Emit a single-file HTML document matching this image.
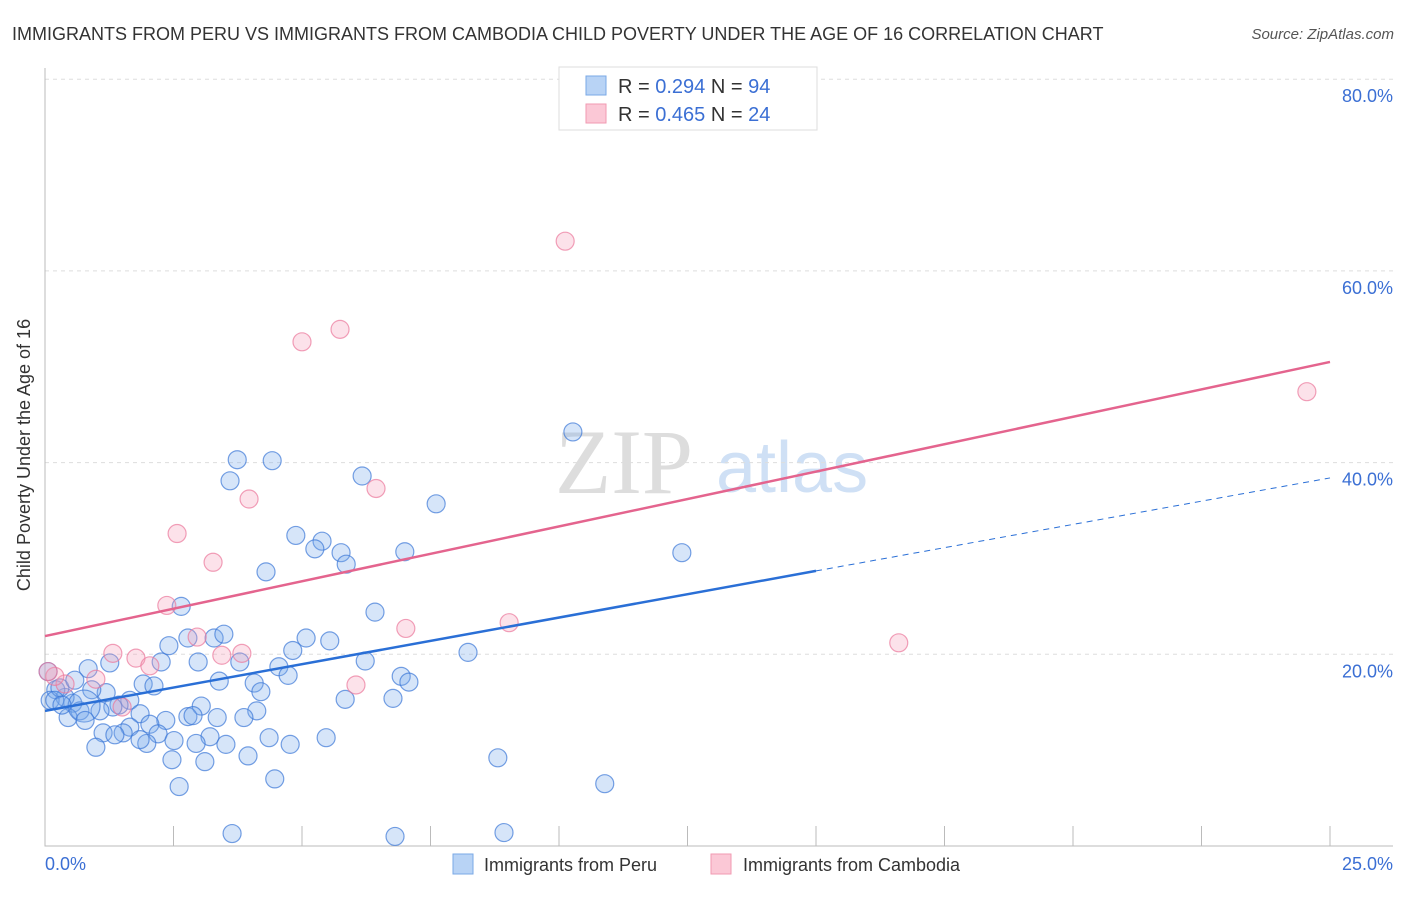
<!DOCTYPE html>
<html><head><meta charset="utf-8"><style>
body{margin:0;background:#fff;font-family:"Liberation Sans",sans-serif}
</style></head><body>
<svg id="c" width="1406" height="892" xmlns="http://www.w3.org/2000/svg">
<text x="12" y="40" font-size="18" fill="#333">IMMIGRANTS FROM PERU VS IMMIGRANTS FROM CAMBODIA CHILD POVERTY UNDER THE AGE OF 16 CORRELATION CHART</text>
<text x="1394" y="39" font-size="15" fill="#555" font-style="italic" text-anchor="end">Source: ZipAtlas.com</text>
<text x="555" y="493" font-size="92" fill="#ddd" font-family="Liberation Serif,serif">ZIP</text>
<text x="716" y="492" font-size="72" fill="#cfe0f5">atlas</text>
<g id="grid"></g><g id="axes"></g><g id="pts"></g><g id="lines"></g>
<text x="30" y="455" font-size="18" fill="#333" transform="rotate(-90 30 455)" text-anchor="middle">Child Poverty Under the Age of 16</text>
<text x="45" y="870" font-size="18" fill="#3b6fd4">0.0%</text>
<text x="1393" y="870" font-size="18" fill="#3b6fd4" text-anchor="end">25.0%</text>
<g>
<rect x="559" y="67" width="258" height="63" fill="#fff" stroke="#ddd"/>
<rect x="586" y="76" width="20" height="19" fill="#b8d3f5" stroke="#7aa8e6"/>
<rect x="586" y="104" width="20" height="19" fill="#fbc8d6" stroke="#f09ab2"/>
<text x="618" y="93" font-size="20" fill="#333">R = <tspan fill="#3b6fd4">0.294</tspan>   N = <tspan fill="#3b6fd4">94</tspan></text>
<text x="618" y="121" font-size="20" fill="#333">R = <tspan fill="#3b6fd4">0.465</tspan>   N = <tspan fill="#3b6fd4">24</tspan></text>
</g>
<g><rect x="453" y="854" width="20" height="20" fill="#b8d3f5" stroke="#7aa8e6"/><text x="484" y="871" font-size="18" fill="#333">Immigrants from Peru</text></g>
<g><rect x="711" y="854" width="20" height="20" fill="#fbc8d6" stroke="#f09ab2"/><text x="743" y="871" font-size="18" fill="#333">Immigrants from Cambodia</text></g>
</svg>
<script>
const peruX=[3.74,4.42,3.60,6.17,7.61,10.27,12.39,4.88,5.39,5.25,5.76,5.86,7.00,4.30,2.65,6.42,8.23,2.78,3.29,3.48,2.41,5.08,5.54,4.82,6.23,3.79,2.98,2.26,1.26,0.84,4.55,4.73,6.93,7.08,3.39,4.07,1.91,2.12,4.20,5.84,6.77,1.19,1.65,0.91,3.04,4.12,1.44,1.32,0.54,0.39,0.21,0.10,0.68,1.07,1.85,2.35,2.78,2.88,3.35,3.87,2.04,1.65,1.52,1.13,3.21,2.20,2.51,2.94,3.52,4.36,4.77,5.47,1.98,0.99,3.95,2.47,3.11,8.81,4.47,2.61,10.89,3.64,6.81,8.93,0.45,0.06,0.29,0.76,0.58,0.19,0.33,0.78,1.36,1.85];
const peruY=[40.3,40.2,38.1,38.6,35.7,43.2,30.6,32.4,31.8,31.0,30.6,29.4,30.7,28.6,25.0,24.4,20.2,21.7,21.7,22.1,20.9,21.7,21.4,20.4,19.3,19.2,19.2,19.2,19.1,18.5,18.7,17.8,17.7,17.1,17.2,17.0,16.9,16.7,16.1,15.3,15.4,16.0,15.2,16.3,14.6,14.1,14.7,14.5,14.9,15.5,16.3,15.2,14.1,14.1,13.8,13.1,13.5,13.6,13.4,13.4,12.7,12.4,11.8,11.8,11.4,11.7,11.0,10.7,10.6,11.3,10.6,11.3,10.7,10.3,9.4,9.0,8.8,9.2,7.0,6.2,6.5,1.3,1.0,1.4,13.4,18.2,16.5,14.6,17.3,15.2,14.7,13.1,11.6,11.1];
const camX=[10.12,5.74,5.00,24.55,6.44,3.97,2.57,3.27,2.37,7.02,9.03,2.96,16.61,1.32,1.77,2.04,3.83,3.44,6.05,0.99,0.39,0.19,0.06,1.50];
const camY=[63.1,53.9,52.6,47.4,37.3,36.2,32.6,29.6,25.1,22.7,23.3,21.8,21.2,20.1,19.6,18.8,20.1,19.9,16.8,17.4,16.9,17.7,18.2,14.5];
const yTicks=[20,40,60,80];
const yTickLabels=["20.0%","40.0%","60.0%","80.0%"];
const xTicks=[0,2.5,5,7.5,10,12.5,15,17.5,20,22.5,25];
const peruTrend=[14.1,28.7,38.4]; // at x=0, 15, 25
const camTrend=[21.9,50.5]; // at x=0, 25
const X=v=>45+v/25*1285, Y=v=>846-v*9.585;
const NS="http://www.w3.org/2000/svg";
function mk(p,t,a){const e=document.createElementNS(NS,t);for(const k in a)e.setAttribute(k,a[k]);document.getElementById(p).appendChild(e);return e;}
yTicks.forEach((t,i)=>{
 const l=mk('grid','line',{x1:45,x2:1393,y1:Y(t),y2:Y(t),stroke:'#ddd','stroke-dasharray':'4,4'});
 
 
 const tx=mk('grid','text',{x:1393,y:Y(t)+23,'font-size':18,fill:'#3b6fd4','text-anchor':'end'});
 tx.textContent=yTickLabels[i];
 
 
});
const ax=mk('axes','path',{d:'M45 68V846H1393',stroke:'#bbb',fill:'none'});


xTicks.slice(1).forEach(t=>{
 const l=mk('axes','line',{x1:X(t),x2:X(t),y1:826,y2:846,stroke:'#bbb'});
 
 
});
peruX.forEach((x,i)=>{
 const c=mk('pts','circle',{cx:X(x),cy:Y(peruY[i]),r:i==87?16:9,fill:'rgba(120,170,235,0.3)',stroke:'rgba(60,120,215,0.7)','stroke-width':1.2});
 
 
});
camX.forEach((x,i)=>{
 const c=mk('pts','circle',{cx:X(x),cy:Y(camY[i]),r:9,fill:'rgba(245,160,185,0.3)',stroke:'rgba(235,120,155,0.7)','stroke-width':1.2});
 
 
});
const l1=mk('lines','line',{x1:X(0),y1:Y(peruTrend[0]),x2:X(15),y2:Y(peruTrend[1]),stroke:'#2a6fd6','stroke-width':2.5});


const l2=mk('lines','line',{x1:X(15),y1:Y(peruTrend[1]),x2:X(25),y2:Y(peruTrend[2]),stroke:'#2a6fd6','stroke-width':1,'stroke-dasharray':'6,5'});


const l3=mk('lines','line',{x1:X(0),y1:Y(camTrend[0]),x2:X(25),y2:Y(camTrend[1]),stroke:'#e4648e','stroke-width':2.5});


</script>
</body></html>
